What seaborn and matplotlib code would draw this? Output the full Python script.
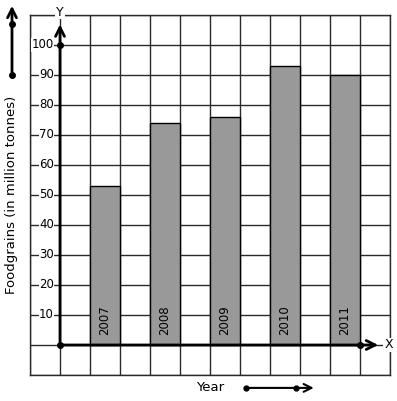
import matplotlib
matplotlib.use("Agg")
import matplotlib.pyplot as plt
import seaborn as sns
import pandas as pd

# data
years = [2007, 2008, 2009, 2010, 2011]
foodgrains = [53, 74, 76, 93, 90]
y_ticks = [10, 20, 30, 40, 50, 60, 70, 80, 90, 100]

# every bar sits in its own grid column, one empty column in between
df = pd.DataFrame({"year": years, "value": foodgrains})
df["pos"] = (df["year"] - years[0]) * 2 + 1.5

sns.set_style("white")
plt.rcParams["font.family"] = "DejaVu Sans"
plt.rcParams["text.color"] = "black"

fig = plt.figure(figsize=(3.97, 4.01), dpi=100)
ax = fig.add_axes([30 / 397, 26 / 401, 360 / 397, 360 / 401])

sns.barplot(data=df, x="pos", y="value", native_scale=True, width=0.5,
            color="#999999", saturation=1, edgecolor="black", linewidth=1, ax=ax)

ax.set_xlim(-1, 11)
ax.set_ylim(-10, 110)
ax.set_xticks(range(-1, 12))
ax.set_yticks(range(-10, 111, 10))
ax.set_xticklabels([])
ax.set_yticklabels([])
ax.tick_params(length=0)
ax.set_xlabel("")
ax.set_ylabel("")
ax.set_axisbelow(True)
ax.grid(True, color="#2a2a2a", lw=1)
for s in ax.spines.values():
    s.set_color("#2a2a2a")
    s.set_linewidth(1)

# axes with arrows
arrow = dict(arrowstyle="->", lw=2, color="black", mutation_scale=16)
ax.annotate("", xy=(0, 107.8), xytext=(0, 0), arrowprops=arrow, annotation_clip=False)
ax.annotate("", xy=(10.7, 0), xytext=(0, 0), arrowprops=arrow, annotation_clip=False)
ax.plot([0, 0, 10], [0, 100, 0], "o", ms=4, color="black", zorder=5)

# tick labels drawn over the grid
for t in y_ticks:
    ax.text(-0.2, t, str(t), ha="right", va="center", fontsize=8.5,
            bbox=dict(facecolor="white", edgecolor="none", pad=0.3), zorder=4)

ax.text(0, 111, "Y", ha="center", va="center", fontsize=9,
        bbox=dict(facecolor="white", edgecolor="none", pad=0.5), clip_on=False)
ax.text(10.95, 0, "X", ha="center", va="center", fontsize=9,
        bbox=dict(facecolor="white", edgecolor="none", pad=0.5), clip_on=False)

# year labels inside bars
for p, yr in zip(df["pos"], years):
    ax.text(p, 3.3, str(yr), rotation=90, ha="center", va="bottom", fontsize=8.5)

# axis titles
ax.text(-1.6, 50, "Foodgrains (in million tonnes)", rotation=90, ha="center",
        va="center", fontsize=9.5, clip_on=False)
ax.text(5.0, -14.3, "Year", ha="center", va="center", fontsize=9.5, clip_on=False)

# direction arrows outside the grid
ax.annotate("", xy=(-1.6, 114), xytext=(-1.6, 90), arrowprops=arrow, annotation_clip=False)
ax.plot([-1.6, -1.6], [90, 107], "o", ms=4, color="black", clip_on=False, zorder=6)
ax.annotate("", xy=(8.55, -14.3), xytext=(6.2, -14.3),
            arrowprops=dict(arrowstyle="->", lw=1.5, color="black", mutation_scale=14),
            annotation_clip=False)
ax.plot([6.2, 7.87], [-14.3, -14.3], "o", ms=3.5, color="black", clip_on=False)

fig.savefig("out.png", dpi=100)
